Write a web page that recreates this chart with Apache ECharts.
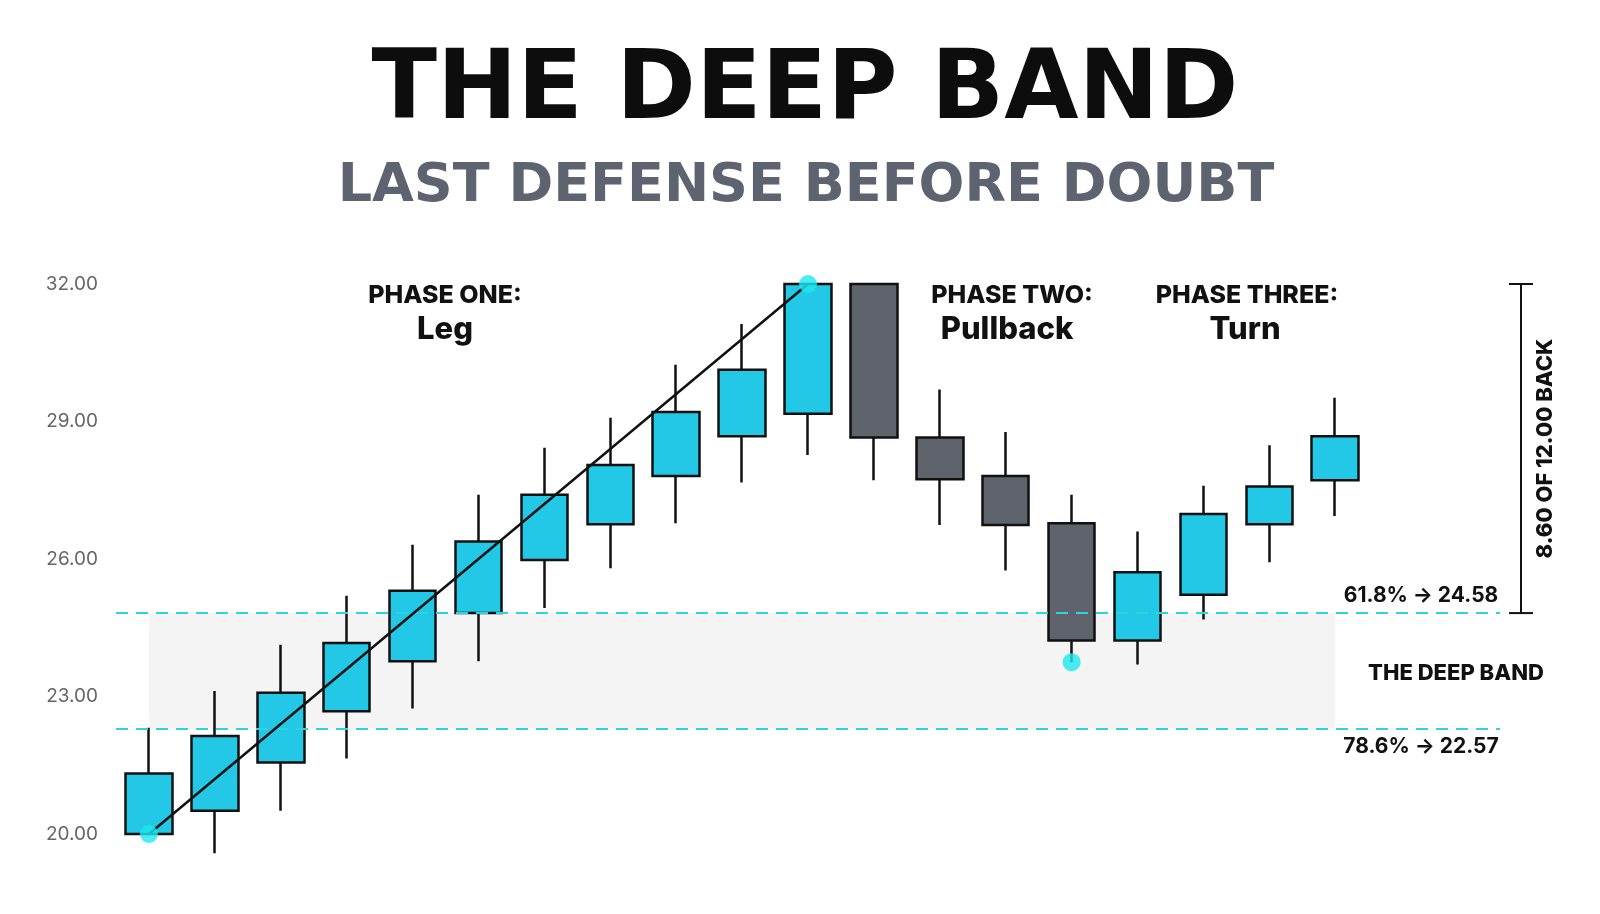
<!DOCTYPE html>
<html><head><meta charset="utf-8">
<script src="https://cdn.jsdelivr.net/npm/echarts@6/dist/echarts.min.js"></script>
<style>html,body{margin:0;padding:0;background:#fff}#c{width:1600px;height:914px}</style>
</head><body><div id="c"></div>
<script>
const categories = ['1','2','3','4','5','6','7','8','9','10','11','12','13','14','15','16','17','18','19','',''];
// [open, close, low, high]
const candles = [
 [20.0,21.32,20.0,22.32],[20.51,22.14,19.58,23.12],[21.56,23.08,20.51,24.13],[22.68,24.17,21.65,25.2],
 [23.77,25.31,22.74,26.31],[24.82,26.38,23.77,27.4],[25.98,27.4,24.93,28.43],[26.76,28.05,25.8,29.08],
 [27.81,29.21,26.78,30.24],[28.68,30.13,27.67,31.13],[29.17,32.0,28.27,32.0],[32.0,28.65,27.72,32.0],
 [28.65,27.74,26.74,29.7],[27.81,26.74,25.75,28.77],[26.78,24.22,23.75,27.4],[24.22,25.71,23.7,26.6],
 [25.22,26.98,24.68,27.6],[26.76,27.58,25.93,28.48],[27.72,28.68,26.94,29.52]
];
const legLine = [[0,20.0],[10,32.0]];
const dots = [[0,20.0],[10,32.0],[14,23.75]];
const fib618 = 24.82, fib786 = 22.3;
const yTicks = {min:20, max:32, interval:3};

const chart = echarts.init(document.getElementById('c'));
const F = 'Inter, "Open Sans", sans-serif';
const FT = '"DejaVu Sans", sans-serif';
chart.setOption({
 animation:false,
 grid:{left:116,right:100,top:284,bottom:80},
 title:[
  {text:'THE DEEP BAND',left:800,top:40,textAlign:'center',textStyle:{fontFamily:FT,fontWeight:'bold',fontSize:96,color:'#0d0d0d'}},
  {text:'LAST DEFENSE BEFORE DOUBT',left:801,top:155,textAlign:'center',textStyle:{fontFamily:FT,fontWeight:'bold',fontSize:54,color:'#5d6470'}}
 ],
 xAxis:{type:'category',data:categories,show:false},
 yAxis:{type:'value',min:yTicks.min,max:yTicks.max,interval:yTicks.interval,splitLine:{show:false},axisLine:{show:false},axisTick:{show:false},
  axisLabel:{formatter:v=>v.toFixed(2),color:'#666',fontSize:19,fontFamily:F,margin:18}},
 series:[
  {type:'candlestick',data:candles,barWidth:47,
   itemStyle:{color:'#22c8e6',color0:'#5f636b',borderColor:'#111',borderColor0:'#111',borderWidth:2.5},
   markArea:{silent:true,itemStyle:{color:'rgba(210,210,210,0.25)'},data:[[{xAxis:0,yAxis:fib618},{xAxis:18,yAxis:fib786}]]},
   markLine:{silent:true,symbol:'none',label:{show:false},lineStyle:{color:'#2fd3dc',type:[12,8],width:2},data:[{yAxis:fib618},{yAxis:fib786}]}
  },
  {type:'line',data:legLine,symbol:'none',lineStyle:{color:'#111',width:2.5},z:5},
  {type:'scatter',data:dots,symbolSize:18,itemStyle:{color:'#1de9f0'},z:6}
 ]
});
const y32 = chart.convertToPixel({yAxisIndex:0},32);
const y618 = chart.convertToPixel({yAxisIndex:0},fib618);
const y786 = chart.convertToPixel({yAxisIndex:0},fib786);
const T = (x,y,t,s,w,c,extra)=>Object.assign({type:'text',x,y,style:{text:t,fontSize:s,fontWeight:w,fill:c||'#111',fontFamily:F,align:'center',verticalAlign:'middle'}},extra||{});
chart.setOption({graphic:[
 T(445,295,'PHASE ONE:',25,800),T(445,330,'Leg',31,800),
 T(1012,295,'PHASE TWO:',25,800),T(1007,330,'Pullback',31,800),
 T(1247,295,'PHASE THREE:',25,800),T(1245,330,'Turn',31,800),
 T(1421,y618-17,'61.8% → 24.58',21,700),
 T(1456,(y618+y786)/2+3,'THE DEEP BAND',22,800),
 T(1421,y786+18,'78.6% → 22.57',21,700),
 {type:'line',shape:{x1:1521,y1:y32,x2:1521,y2:y618},style:{stroke:'#111',lineWidth:2}},
 {type:'line',shape:{x1:1509,y1:y32,x2:1533,y2:y32},style:{stroke:'#111',lineWidth:2}},
 {type:'line',shape:{x1:1509,y1:y618,x2:1533,y2:y618},style:{stroke:'#111',lineWidth:2}},
 T(1545,(y32+y618)/2,'8.60 OF 12.00 BACK',22,800,'#111',{rotation:Math.PI/2})
]});
</script></body></html>
